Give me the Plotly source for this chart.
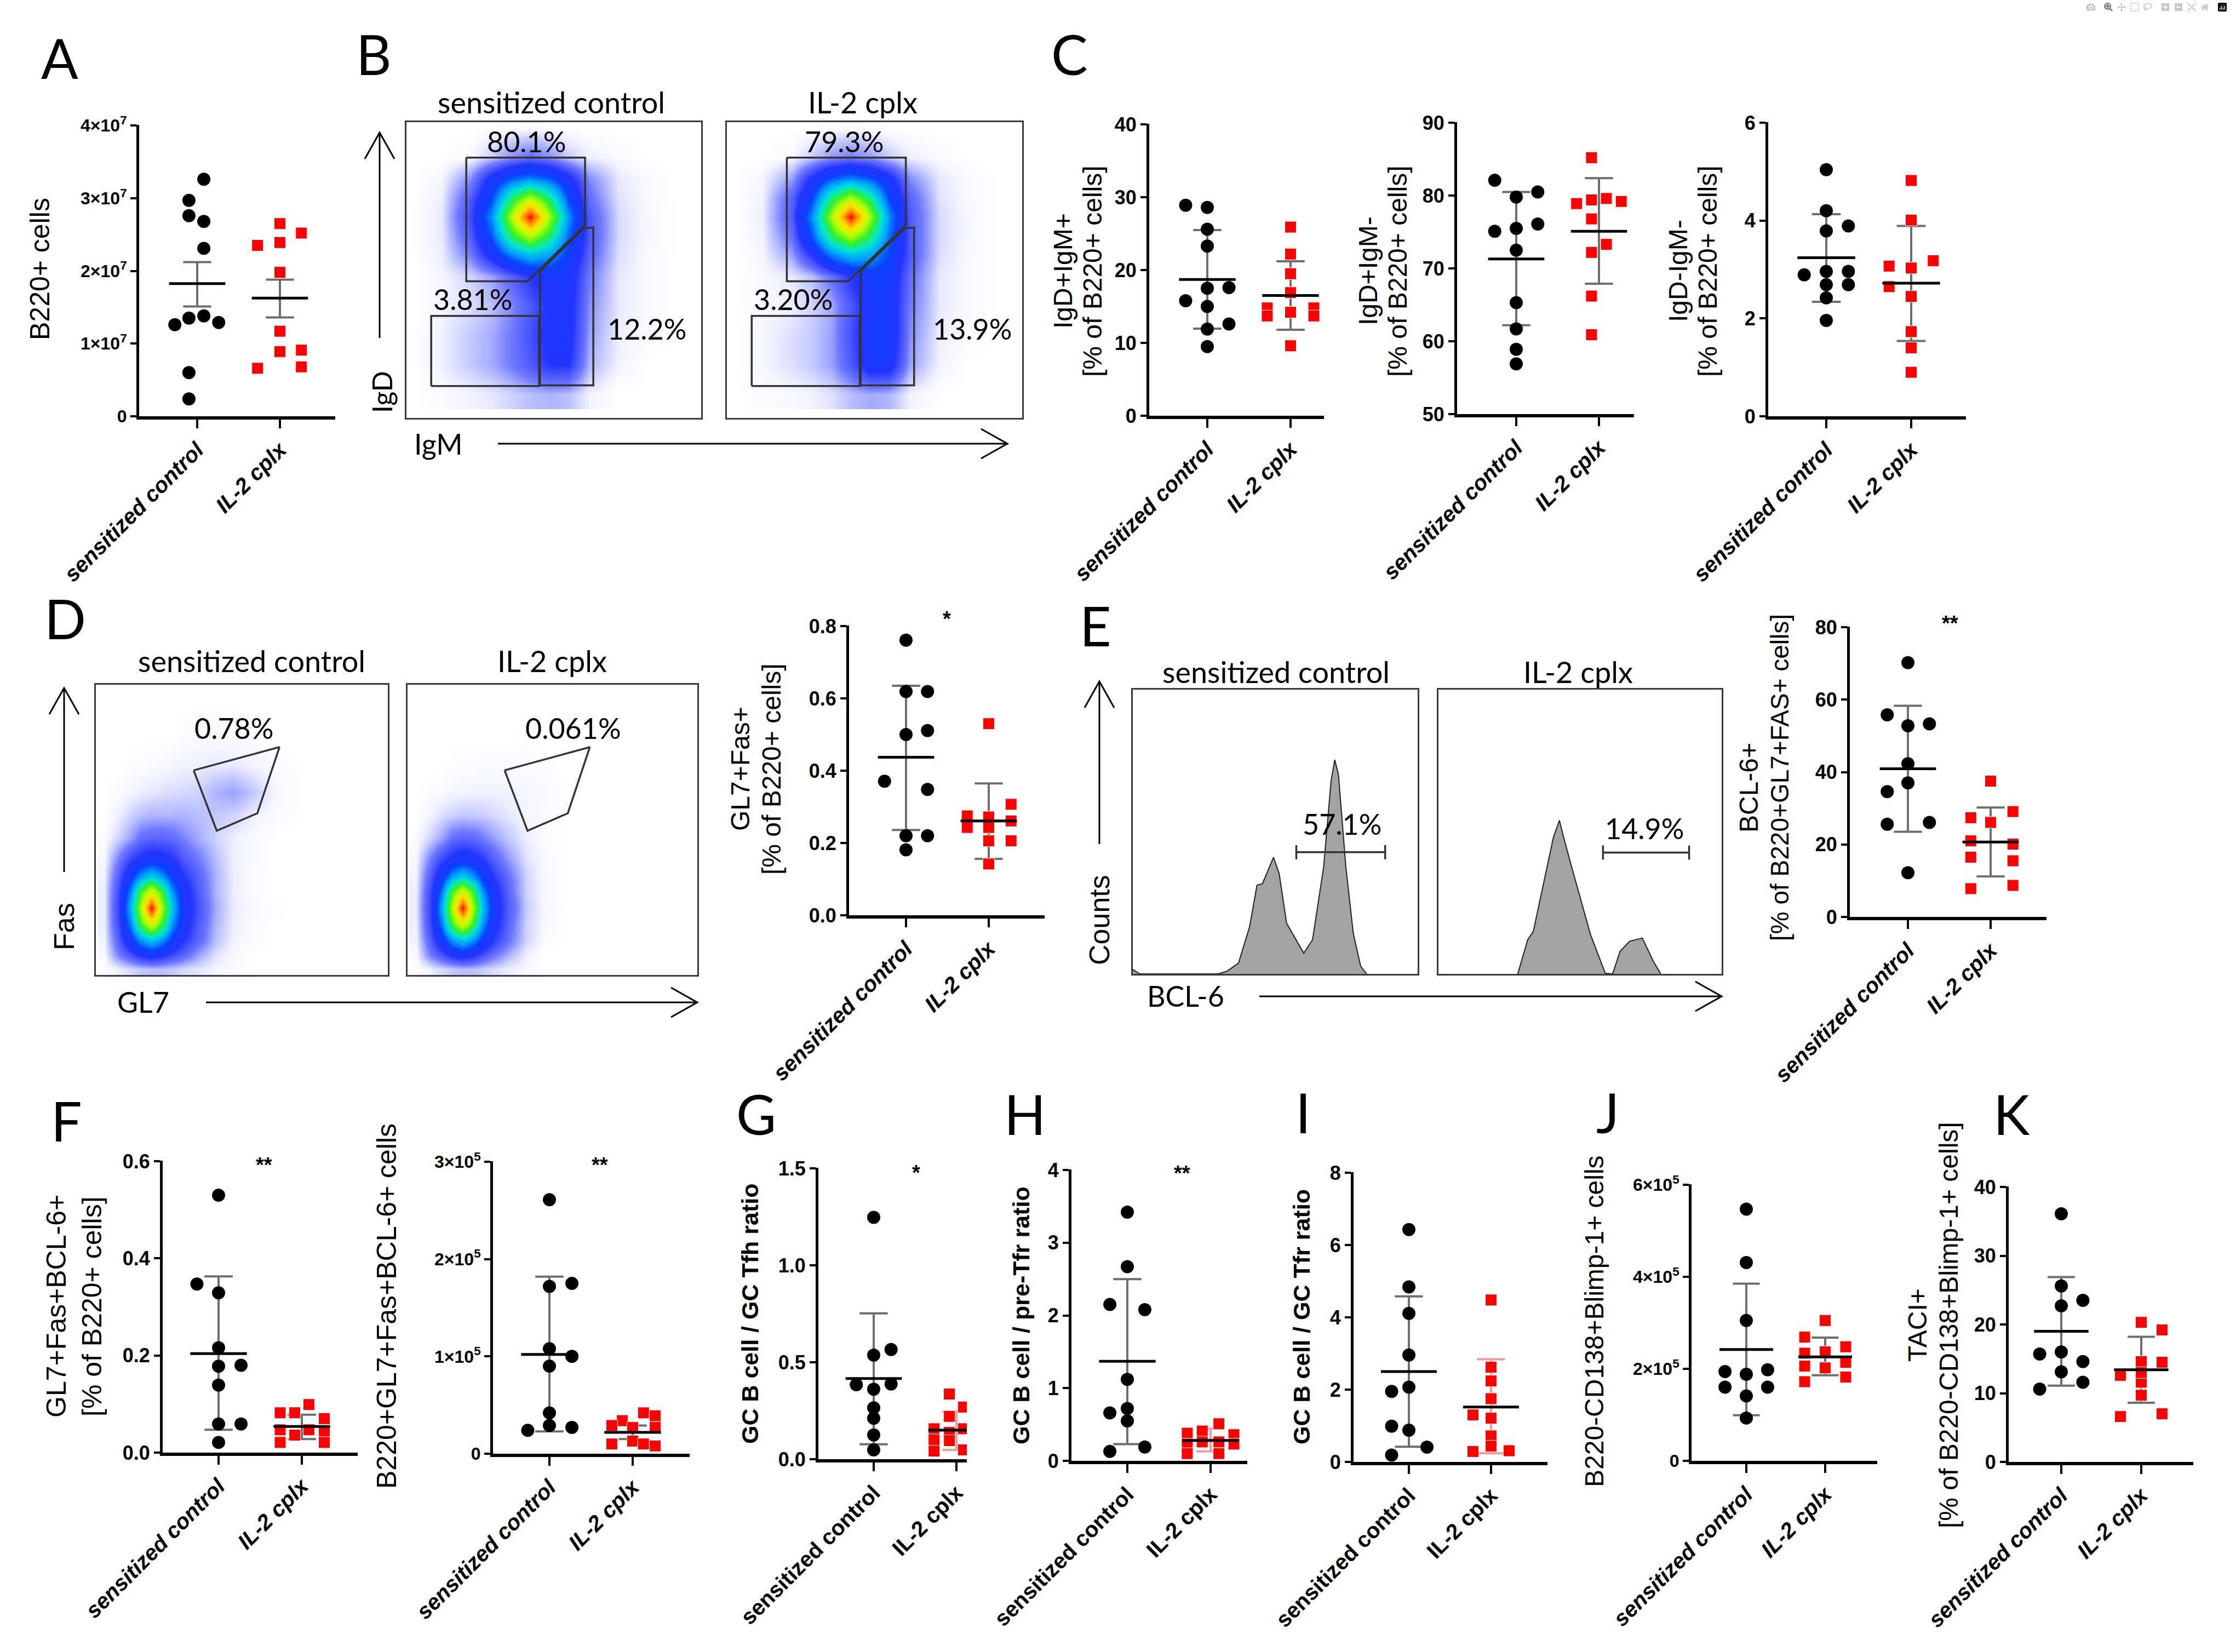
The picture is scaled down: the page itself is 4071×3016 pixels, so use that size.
import plotly.graph_objects as go

W, H = 4071, 3016
GROUPS = ["sensitized control", "IL-2 cplx"]
SANS = "Liberation Sans, Arial, sans-serif"
CAL = "Lato, Liberation Sans, sans-serif"

# ---------------- dot plot data ----------------
# A  B220+ cells
a_ctrl = [3.26e7, 2.97e7, 2.76e7, 2.68e7, 2.31e7, 1.26e7, 1.35e7, 1.38e7, 1.29e7, 0.60e7, 0.24e7]
a_il2 = [2.65e7, 2.52e7, 2.35e7, 2.39e7, 1.98e7, 1.17e7, 0.89e7, 0.91e7, 0.66e7, 0.68e7]
a_mean, a_lo, a_hi = [1.826e7, 1.625e7], [1.51e7, 1.36e7], [2.12e7, 1.88e7]
a_ticks = [0, 1e7, 2e7, 3e7, 4e7]
a_ticktext = ["0", "1×10<sup>7</sup>", "2×10<sup>7</sup>", "3×10<sup>7</sup>", "4×10<sup>7</sup>"]

# C  IgD/IgM subsets
c1_ctrl = [28.9, 28.6, 25.6, 23.3, 15.8, 17.6, 17.5, 15.0, 11.9, 12.6, 9.5]
c1_il2 = [25.9, 22.2, 19.5, 16.9, 14.8, 14.2, 14.8, 13.7, 13.7, 9.6]
c1_mean, c1_lo, c1_hi = [18.7, 16.5], [11.95, 11.8], [25.5, 21.2]
c1_ticks = [0, 10, 20, 30, 40]

c2_ctrl = [82.1, 79.8, 80.5, 75.1, 75.5, 76.1, 72.5, 65.3, 61.7, 58.9, 56.9]
c2_il2 = [85.2, 78.9, 79.4, 79.6, 79.2, 76.8, 73.3, 72.2, 66.2, 60.9]
c2_mean, c2_lo, c2_hi = [71.3, 75.1], [62.2, 67.9], [80.5, 82.4]
c2_ticks = [50, 60, 70, 80, 90]

c3_ctrl = [5.04, 4.20, 3.79, 3.89, 2.89, 2.96, 2.96, 2.69, 2.69, 2.42, 1.96]
c3_il2 = [4.82, 4.01, 3.18, 3.07, 3.03, 2.65, 2.45, 1.73, 1.40, 0.90]
c3_mean, c3_lo, c3_hi = [3.24, 2.72], [2.34, 1.54], [4.13, 3.89]
c3_ticks = [0, 2, 4, 6]

# D  GL7+Fas+
d_ctrl = [0.761, 0.619, 0.619, 0.500, 0.511, 0.371, 0.348, 0.220, 0.220, 0.181]
d_il2 = [0.530, 0.307, 0.275, 0.272, 0.261, 0.243, 0.243, 0.206, 0.206, 0.142]
d_mean, d_lo, d_hi = [0.437, 0.261], [0.236, 0.156], [0.635, 0.365]
d_ticks = [0, 0.2, 0.4, 0.6, 0.8]
d_ticktext = ["0.0", "0.2", "0.4", "0.6", "0.8"]

# E  BCL-6+
e_ctrl = [70.2, 55.8, 52.8, 53.3, 42.3, 37.0, 34.6, 25.6, 26.1, 12.2]
e_il2 = [37.5, 29.1, 27.4, 26.1, 21.0, 20.1, 16.5, 15.5, 7.8, 8.7]
e_mean, e_lo, e_hi = [40.9, 20.7], [23.5, 11.2], [58.3, 30.2]
e_ticks = [0, 20, 40, 60, 80]

# F
f1_ctrl = [0.530, 0.347, 0.329, 0.216, 0.178, 0.180, 0.139, 0.059, 0.059, 0.021]
f1_il2 = [0.099, 0.082, 0.082, 0.070, 0.047, 0.047, 0.036, 0.044, 0.021, 0.021]
f1_mean, f1_lo, f1_hi = [0.204, 0.054], [0.047, 0.028], [0.363, 0.078]
f1_ticks = [0, 0.2, 0.4, 0.6]
f1_ticktext = ["0.0", "0.2", "0.4", "0.6"]

f2_ctrl = [2.61e5, 1.72e5, 1.75e5, 1.08e5, 1.00e5, 0.90e5, 0.42e5, 0.24e5, 0.29e5, 0.27e5]
f2_il2 = [0.42e5, 0.39e5, 0.34e5, 0.29e5, 0.27e5, 0.27e5, 0.10e5, 0.13e5, 0.10e5, 0.08e5]
f2_mean, f2_lo, f2_hi = [1.02e5, 0.22e5], [0.23e5, 0.15e5], [1.82e5, 0.29e5]
f2_ticks = [0, 1e5, 2e5, 3e5]
f2_ticktext = ["0", "1×10<sup>5</sup>", "2×10<sup>5</sup>", "3×10<sup>5</sup>"]

# G, H, I  ratios
g_ctrl = [1.247, 0.566, 0.537, 0.384, 0.388, 0.361, 0.265, 0.211, 0.125, 0.048]
g_il2 = [0.336, 0.269, 0.221, 0.157, 0.157, 0.138, 0.100, 0.096, 0.042, 0.048]
g_mean, g_lo, g_hi = [0.416, 0.150], [0.077, 0.048], [0.752, 0.246]
g_ticks = [0, 0.5, 1.0, 1.5]
g_ticktext = ["0.0", "0.5", "1.0", "1.5"]

h_ctrl = [3.42, 2.67, 2.15, 2.08, 1.12, 0.66, 0.72, 0.55, 0.13, 0.19]
h_il2 = [0.51, 0.41, 0.38, 0.36, 0.26, 0.26, 0.23, 0.23, 0.10, 0.10]
h_mean, h_lo, h_hi = [1.37, 0.28], [0.23, 0.13], [2.50, 0.44]
h_ticks = [0, 1, 2, 3, 4]

i_ctrl = [6.43, 4.84, 4.11, 2.96, 1.95, 2.07, 0.99, 0.88, 0.41, 0.19]
i_il2 = [4.48, 2.62, 2.24, 1.75, 1.30, 1.21, 0.72, 0.44, 0.29, 0.31]
i_mean, i_lo, i_hi = [2.50, 1.52], [0.42, 0.24], [4.58, 2.84]
i_ticks = [0, 2, 4, 6, 8]

# J, K  plasma cells
j_ctrl = [5.47e5, 4.31e5, 3.05e5, 1.94e5, 1.88e5, 1.98e5, 1.60e5, 1.60e5, 1.41e5, 0.93e5]
j_il2 = [3.05e5, 2.69e5, 2.48e5, 2.34e5, 2.37e5, 2.14e5, 2.06e5, 2.02e5, 1.82e5, 1.72e5]
j_mean, j_lo, j_hi = [2.42e5, 2.26e5], [0.99e5, 1.86e5], [3.85e5, 2.68e5]
j_ticks = [0, 2e5, 4e5, 6e5]
j_ticktext = ["0", "2×10<sup>5</sup>", "4×10<sup>5</sup>", "6×10<sup>5</sup>"]

k_ctrl = [36.1, 25.6, 22.7, 23.5, 15.7, 16.0, 14.6, 13.1, 11.6, 10.6]
k_il2 = [20.3, 19.2, 14.6, 14.5, 12.6, 11.6, 9.7, 7.0, 6.6, 13.0]
k_mean, k_lo, k_hi = [19.0, 13.4], [11.1, 8.6], [26.9, 18.2]
k_ticks = [0, 10, 20, 30, 40]

# horizontal scatter of the points (category units)
a_ctrl_dx = [0.08, -0.1, -0.1, 0.08, 0.08, -0.27, -0.1, 0.08, 0.26, -0.1, -0.1]
a_il2_dx = [0, 0.26, -0.27, 0, 0, 0, 0, 0.26, -0.27, 0.26]
c1_ctrl_dx = [-0.26, 0, 0, 0, -0.26, 0.26, 0, 0, 0, 0.26, 0]
c1_il2_dx = [0, 0, 0, 0, -0.28, 0, 0.28, -0.28, 0.28, 0]
c2_ctrl_dx = [-0.26, 0, 0.26, -0.26, 0, 0.26, 0, 0, 0, 0, 0]
c2_il2_dx = [-0.09, -0.27, -0.09, 0.09, 0.27, -0.09, 0.09, -0.09, -0.09, -0.09]
c3_ctrl_dx = [0, 0, 0, 0.26, -0.26, 0, 0.26, 0, 0.26, 0, 0]
c3_il2_dx = [0, 0, 0.26, -0.26, 0, -0.26, 0, 0, 0, 0]
d_ctrl_dx = [0, 0, 0.26, 0, 0.26, -0.26, 0.26, 0, 0.26, 0]
d_il2_dx = [0, 0.27, -0.26, 0, 0.27, -0.26, 0, 0.27, 0, 0]
e_ctrl_dx = [0, -0.25, 0, 0.26, 0, 0, -0.25, -0.25, 0.26, 0]
e_il2_dx = [0, 0.27, -0.24, 0, -0.24, 0.27, -0.24, 0.27, -0.24, 0.27]
f1_ctrl_dx = [0, -0.26, 0, 0, 0, 0.27, 0, 0, 0.27, 0]
f1_il2_dx = [0.085, -0.26, -0.085, 0.27, -0.26, 0.085, -0.085, 0.27, -0.26, 0.27]
f2_ctrl_dx = [0, 0, 0.27, 0, 0.27, 0, 0, -0.26, 0, 0.27]
f2_il2_dx = [0.13, 0.27, -0.125, -0.25, 0, 0.27, -0.25, 0, 0.13, 0.27]
g_ctrl_dx = [0, 0.21, 0, -0.21, 0.21, 0, 0, 0, 0, 0]
g_il2_dx = [-0.085, 0.085, -0.085, -0.27, 0.085, -0.085, -0.27, -0.085, -0.27, 0.085]
h_ctrl_dx = [0, 0, -0.21, 0.21, 0, -0.21, 0, 0, -0.21, 0.21]
h_il2_dx = [0.1, -0.1, -0.28, 0.28, -0.1, 0.1, -0.28, 0.28, -0.28, 0.1]
i_ctrl_dx = [0, 0, 0, 0, -0.21, 0, -0.21, 0, 0.22, -0.21]
i_il2_dx = [0, 0, 0, 0, -0.22, 0, 0, 0, -0.22, 0.22]
j_ctrl_dx = [0, 0, 0, -0.27, 0, 0.27, -0.27, 0.27, 0, 0]
j_il2_dx = [0, -0.26, 0.26, -0.26, 0, 0.26, -0.26, 0, 0.26, -0.26]
k_ctrl_dx = [0, 0, 0, 0.27, -0.27, 0, 0.27, 0, 0.27, -0.27]
k_il2_dx = [0, 0.26, 0, 0.26, -0.26, 0, 0, 0.26, -0.26, 0]

# ---------------- flow data (density) ----------------
# B: IgM (x) vs IgD (y); rows listed from top to bottom
b_xs = [2, 12, 22, 29, 35.5, 42, 48.5, 55, 62, 72, 82, 92]
b_ys = [98, 88, 81, 74.5, 68, 61.5, 55, 48, 38, 28, 18, 8]
b1_density = [
    [0, 0, 0, 0, 0.003, 0.004, 0.003, 0, 0, 0, 0, 0],
    [0, 0, 0.006, 0.03, 0.06, 0.08, 0.06, 0.03, 0.012, 0.005, 0, 0],
    [0, 0.008, 0.06, 0.16, 0.24, 0.28, 0.24, 0.16, 0.06, 0.015, 0.005, 0],
    [0, 0.012, 0.1, 0.22, 0.45, 0.6, 0.45, 0.22, 0.08, 0.018, 0.005, 0],
    [0, 0.015, 0.12, 0.29, 0.6, 1.0, 0.6, 0.29, 0.1, 0.022, 0.006, 0],
    [0, 0.015, 0.1, 0.24, 0.47, 0.62, 0.47, 0.25, 0.1, 0.022, 0.006, 0],
    [0, 0.012, 0.07, 0.16, 0.27, 0.34, 0.3, 0.2, 0.09, 0.02, 0.005, 0],
    [0, 0.008, 0.025, 0.05, 0.09, 0.14, 0.17, 0.17, 0.07, 0.015, 0.005, 0],
    [0, 0.008, 0.02, 0.035, 0.06, 0.1, 0.15, 0.16, 0.06, 0.015, 0.005, 0],
    [0, 0.012, 0.03, 0.045, 0.07, 0.11, 0.16, 0.16, 0.05, 0.012, 0.004, 0],
    [0, 0.012, 0.03, 0.045, 0.07, 0.1, 0.14, 0.14, 0.04, 0.01, 0, 0],
    [0, 0.004, 0.01, 0.015, 0.025, 0.035, 0.04, 0.035, 0.01, 0, 0, 0],
]
b2_density = [
    [0, 0, 0, 0, 0.003, 0.004, 0.003, 0, 0, 0, 0, 0],
    [0, 0, 0.006, 0.03, 0.055, 0.07, 0.055, 0.03, 0.012, 0.005, 0, 0],
    [0, 0.008, 0.05, 0.15, 0.24, 0.28, 0.24, 0.16, 0.06, 0.015, 0.005, 0],
    [0, 0.01, 0.09, 0.22, 0.45, 0.6, 0.45, 0.22, 0.09, 0.018, 0.005, 0],
    [0, 0.012, 0.1, 0.29, 0.6, 1.0, 0.6, 0.29, 0.1, 0.022, 0.006, 0],
    [0, 0.01, 0.08, 0.24, 0.47, 0.62, 0.47, 0.26, 0.1, 0.022, 0.006, 0],
    [0, 0.008, 0.05, 0.14, 0.27, 0.34, 0.31, 0.22, 0.1, 0.02, 0.005, 0],
    [0, 0.005, 0.015, 0.035, 0.08, 0.14, 0.19, 0.19, 0.08, 0.015, 0.005, 0],
    [0, 0.005, 0.012, 0.025, 0.045, 0.1, 0.17, 0.18, 0.07, 0.015, 0.005, 0],
    [0, 0.008, 0.02, 0.03, 0.05, 0.11, 0.18, 0.19, 0.06, 0.012, 0.004, 0],
    [0, 0.008, 0.02, 0.03, 0.05, 0.1, 0.17, 0.17, 0.05, 0.01, 0, 0],
    [0, 0.003, 0.006, 0.01, 0.018, 0.035, 0.045, 0.04, 0.01, 0, 0, 0],
]
b_gate_hi_x = [20.3, 60.6, 60.6, 41.1, 20.3, 20.3]
b_gate_hi_y = [88.0, 88.0, 65.2, 46.2, 46.2, 88.0]
b_gate_mid_x = [45.3, 45.3, 60.2, 63.4, 63.4, 45.3]
b_gate_mid_y = [11.0, 49.6, 64.1, 64.4, 11.0, 11.0]
b_gate_lo_x = [8.4, 45.0, 45.0, 8.4, 8.4]
b_gate_lo_y = [10.8, 10.8, 34.5, 34.5, 10.8]

# D: GL7 (x) vs Fas (y); rows listed from top to bottom
d_xs = [3, 8, 12, 15.5, 19, 22.5, 26, 30, 35, 41, 47, 54, 62, 72, 85]
d_ys = [95, 82, 72, 63, 55, 47, 40, 34, 28.5, 23, 17.5, 12, 7, 2]
d1_density = [
    [0, 0, 0, 0, 0, 0, 0, 0, 0, 0, 0, 0, 0, 0, 0],
    [0, 0, 0, 0, 0, 0, 0, 0.003, 0.004, 0.005, 0.004, 0.002, 0, 0, 0],
    [0, 0, 0.002, 0.003, 0.005, 0.006, 0.008, 0.01, 0.012, 0.015, 0.015, 0.01, 0.004, 0, 0],
    [0, 0.004, 0.008, 0.012, 0.015, 0.018, 0.02, 0.022, 0.025, 0.04, 0.05, 0.03, 0.006, 0, 0],
    [0, 0.012, 0.025, 0.035, 0.04, 0.04, 0.04, 0.04, 0.035, 0.03, 0.025, 0.012, 0.004, 0, 0],
    [0.003, 0.026, 0.05, 0.08, 0.09, 0.09, 0.085, 0.065, 0.045, 0.025, 0.012, 0.005, 0, 0, 0],
    [0.006, 0.07, 0.12, 0.15, 0.17, 0.16, 0.14, 0.1, 0.07, 0.035, 0.012, 0.005, 0, 0, 0],
    [0.01, 0.1, 0.19, 0.3, 0.36, 0.3, 0.21, 0.14, 0.09, 0.04, 0.012, 0.004, 0, 0, 0],
    [0.012, 0.12, 0.28, 0.52, 0.68, 0.52, 0.3, 0.17, 0.1, 0.04, 0.012, 0.004, 0, 0, 0],
    [0.012, 0.13, 0.33, 0.62, 1.0, 0.62, 0.36, 0.18, 0.11, 0.045, 0.014, 0.005, 0.002, 0, 0],
    [0.012, 0.12, 0.28, 0.52, 0.68, 0.52, 0.3, 0.17, 0.1, 0.04, 0.012, 0.004, 0, 0, 0],
    [0.01, 0.1, 0.19, 0.3, 0.36, 0.3, 0.21, 0.14, 0.09, 0.035, 0.01, 0.004, 0, 0, 0],
    [0.005, 0.07, 0.11, 0.15, 0.17, 0.15, 0.12, 0.09, 0.05, 0.018, 0.006, 0, 0, 0, 0],
    [0, 0.012, 0.022, 0.03, 0.035, 0.035, 0.03, 0.022, 0.016, 0.008, 0.004, 0, 0, 0, 0],
]
d2_density = [
    [0, 0, 0, 0, 0, 0, 0, 0, 0, 0, 0, 0, 0, 0, 0],
    [0, 0, 0, 0, 0, 0, 0, 0, 0, 0.002, 0, 0, 0, 0, 0],
    [0, 0, 0, 0.002, 0.003, 0.003, 0.004, 0.004, 0.004, 0.003, 0.002, 0, 0, 0, 0],
    [0, 0.003, 0.005, 0.007, 0.009, 0.01, 0.01, 0.01, 0.01, 0.008, 0.005, 0.002, 0, 0, 0],
    [0, 0.01, 0.02, 0.026, 0.03, 0.03, 0.028, 0.022, 0.015, 0.008, 0.004, 0, 0, 0, 0],
    [0.003, 0.026, 0.05, 0.08, 0.09, 0.085, 0.07, 0.05, 0.03, 0.012, 0.004, 0, 0, 0, 0],
    [0.006, 0.07, 0.12, 0.15, 0.17, 0.16, 0.13, 0.09, 0.05, 0.018, 0.005, 0, 0, 0, 0],
    [0.01, 0.1, 0.19, 0.3, 0.36, 0.3, 0.2, 0.13, 0.075, 0.025, 0.006, 0, 0, 0, 0],
    [0.012, 0.12, 0.28, 0.52, 0.68, 0.52, 0.29, 0.16, 0.085, 0.025, 0.006, 0, 0, 0, 0],
    [0.012, 0.13, 0.33, 0.62, 1.0, 0.62, 0.34, 0.17, 0.095, 0.03, 0.008, 0, 0, 0, 0],
    [0.012, 0.12, 0.28, 0.52, 0.68, 0.52, 0.29, 0.16, 0.085, 0.025, 0.006, 0, 0, 0, 0],
    [0.01, 0.1, 0.19, 0.3, 0.36, 0.3, 0.2, 0.13, 0.075, 0.025, 0.005, 0, 0, 0, 0],
    [0.005, 0.07, 0.11, 0.15, 0.17, 0.15, 0.11, 0.075, 0.04, 0.012, 0, 0, 0, 0, 0],
    [0, 0.012, 0.022, 0.03, 0.035, 0.035, 0.028, 0.02, 0.012, 0.005, 0, 0, 0, 0, 0],
]
d_gate_x = [33.5, 62.9, 55.3, 41.4, 33.5]
d_gate_y = [70.5, 78.5, 55.7, 49.7, 70.5]

# E: BCL-6 histograms (% of box)
e1_hist_x = [0, 0.8, 2.5, 30.0, 33.0, 37.1, 41.0, 43.6, 45.5, 49.4, 51.4, 54.0, 60.0, 63.1,
             67.0, 69.6, 70.9, 72.2, 74.8, 77.4, 80.0, 82.1]
e1_hist_y = [1.5, 1.0, 0, 0, 0.9, 3.8, 16.6, 31.2, 31.7, 41.0, 35.2, 17.8, 7.3, 12.0,
             37.6, 67.8, 75.3, 70.1, 37.6, 14.3, 2.7, 0]
e2_hist_x = [28.0, 31.5, 33.5, 36.6, 40.6, 42.7, 44.5, 47.1, 49.7, 53.7, 58.9, 61.5,
             64.1, 67.5, 72.0, 75.9, 78.5]
e2_hist_y = [0, 12.0, 15.0, 29.2, 48.1, 54.0, 46.9, 37.4, 28.0, 13.8, 0.2, 0,
             7.9, 11.5, 12.6, 4.4, 0]
e1_gate_x, e1_gate_y = [57.4, 88.6], 42.8
e2_gate_x, e2_gate_y = [58.1, 88.5], 42.7

FLOW_CS = [
    [0.0, "#ffffff"], [0.01, "#f2f3ff"], [0.03, "#c4c9ff"], [0.07, "#6e78ff"],
    [0.14, "#2434ff"], [0.22, "#0a40ff"], [0.3, "#00a0ff"], [0.4, "#00e6d0"],
    [0.5, "#30f030"], [0.62, "#b8ff00"], [0.75, "#ffe000"], [0.88, "#ff8000"], [1.0, "#ff0000"],
]

# ---------------- helpers ----------------
fig = go.Figure()
layout = {}
annotations = []
shapes = []


def fx(px):
    return px / W


def fy(py):
    return 1 - py / H


def refs(i):
    s = "" if i == 1 else str(i)
    return "x" + s, "y" + s, "xaxis" + s, "yaxis" + s


def dot_panel(i, geo, ctrl, ctrl_dx, il2, il2_dx, mean, lo, hi, yr, tv, tt=None,
              err_il2="#6e6e6e", italic=True, tick_size=36):
    x0, x1, c1, c2, yt, yb = geo
    d = c2 - c1
    xr, yr_, xk, yk = refs(i)
    layout[xk] = dict(
        domain=[fx(x0), fx(x1)], range=[1 - (c1 - x0) / d, 2 + (x1 - c2) / d], anchor=yr_,
        tickmode="array", tickvals=[1, 2], ticktext=GROUPS, tickangle=-45, automargin=False,
        ticks="outside", ticklen=16, tickwidth=4, tickcolor="black",
        showline=True, linewidth=6, linecolor="black", showgrid=False, zeroline=False,
        tickfont=dict(family=SANS, size=40, color="black", weight="bold",
                      style="italic" if italic else "normal"))
    layout[yk] = dict(
        domain=[fy(yb), fy(yt)], range=[yr[0], yr[1] + (yr[1] - yr[0]) * 0.002], anchor=xr,
        tickmode="array", tickvals=tv, ticktext=tt if tt else [str(v) for v in tv],
        ticks="outside", ticklen=11, tickwidth=4, tickcolor="black", automargin=False,
        showline=True, linewidth=5, linecolor="black", showgrid=False, zeroline=False,
        tickfont=dict(family=SANS, size=tick_size, color="black", weight="bold"))
    ecol = ["#6e6e6e", err_il2]
    for g in range(2):
        c = g + 1
        fig.add_trace(go.Scatter(
            x=[c, c, None, c - 0.17, c + 0.17, None, c - 0.17, c + 0.17],
            y=[lo[g], hi[g], None, lo[g], lo[g], None, hi[g], hi[g]],
            mode="lines", line=dict(color=ecol[g], width=4), xaxis=xr, yaxis=yr_))
    fig.add_trace(go.Scatter(
        x=[1 + v for v in ctrl_dx], y=ctrl, mode="markers",
        marker=dict(symbol="circle", size=24, color="black"), xaxis=xr, yaxis=yr_))
    fig.add_trace(go.Scatter(
        x=[2 + v for v in il2_dx], y=il2, mode="markers",
        marker=dict(symbol="square", size=21, color="#ff0000", line=dict(color="#ffffff", width=1)),
        xaxis=xr, yaxis=yr_))
    fig.add_trace(go.Scatter(
        x=[0.66, 1.34, None, 1.66, 2.34], y=[mean[0], mean[0], None, mean[1], mean[1]],
        mode="lines", line=dict(color="black", width=5), xaxis=xr, yaxis=yr_))


def flow_axes(i, box):
    x0, x1, yt, yb = box
    xr, yr_, xk, yk = refs(i)
    common = dict(range=[0, 100], showline=True, mirror=True, linewidth=3, linecolor="#3a3a3a",
                  showticklabels=False, ticks="", showgrid=False, zeroline=False, automargin=False)
    layout[xk] = dict(domain=[fx(x0), fx(x1)], anchor=yr_, **common)
    layout[yk] = dict(domain=[fy(yb), fy(yt)], anchor=xr, **common)
    return xr, yr_


def density(i, box, xs, ys, z, gates):
    xr, yr_ = flow_axes(i, box)
    fig.add_trace(go.Heatmap(x=xs, y=ys[::-1], z=z[::-1], colorscale=FLOW_CS, zmin=0, zmax=1,
                             zsmooth="best", showscale=False, xaxis=xr, yaxis=yr_))
    for gx, gy in gates:
        fig.add_trace(go.Scatter(x=gx, y=gy, mode="lines", line=dict(color="#333333", width=3.5),
                                 xaxis=xr, yaxis=yr_))


def histogram(i, box, hx, hy, gx, gy):
    xr, yr_ = flow_axes(i, box)
    fig.add_trace(go.Scatter(x=hx, y=hy, mode="lines", fill="tozeroy", fillcolor="#a3a3a3",
                             line=dict(color="#222222", width=2), xaxis=xr, yaxis=yr_))
    fig.add_trace(go.Scatter(
        x=[gx[0], gx[1], None, gx[0], gx[0], None, gx[1], gx[1]],
        y=[gy, gy, None, gy - 2.5, gy + 2.5, None, gy - 2.5, gy + 2.5],
        mode="lines", line=dict(color="#333333", width=3.5), xaxis=xr, yaxis=yr_))


def label(x, y, text, size, family=SANS, angle=0, weight="normal"):
    annotations.append(dict(
        x=fx(x), y=fy(y), xref="paper", yref="paper", text=text, showarrow=False,
        textangle=angle, xanchor="center", yanchor="middle",
        font=dict(family=family, size=size, color="black", weight=weight)))


def arrow(xa, ya, xb, yb):
    shapes.append(dict(type="line", xref="paper", yref="paper", x0=fx(xa), y0=fy(ya),
                       x1=fx(xb), y1=fy(yb), line=dict(color="black", width=3)))
    if xa == xb:
        pts = [(xb - 27, yb + 48), (xb, yb), (xb + 27, yb + 48)]
    else:
        pts = [(xb - 48, yb - 27), (xb, yb), (xb - 48, yb + 27)]
    path = "M " + " L ".join(f"{fx(px)},{fy(py)}" for px, py in pts)
    shapes.append(dict(type="path", xref="paper", yref="paper", path=path,
                       line=dict(color="black", width=3)))


# ---------------- panels ----------------
dot_panel(1, (254, 612, 360, 511, 228, 760), a_ctrl, a_ctrl_dx, a_il2, a_il2_dx,
          a_mean, a_lo, a_hi, [0, 4e7], a_ticks, a_ticktext, tick_size=32)

b_gates = [(b_gate_hi_x, b_gate_hi_y), (b_gate_mid_x, b_gate_mid_y), (b_gate_lo_x, b_gate_lo_y)]
density(2, (742, 1280, 223, 763), b_xs, b_ys, b1_density, b_gates)
density(3, (1327, 1866, 223, 763), b_xs, b_ys, b2_density, b_gates)

dot_panel(4, (2098, 2417, 2204, 2356, 226, 759), c1_ctrl, c1_ctrl_dx, c1_il2, c1_il2_dx,
          c1_mean, c1_lo, c1_hi, [0, 40], c1_ticks)
dot_panel(5, (2660, 2983, 2768, 2919, 223, 756), c2_ctrl, c2_ctrl_dx, c2_il2, c2_il2_dx,
          c2_mean, c2_lo, c2_hi, [50, 90], c2_ticks)
dot_panel(6, (3228, 3589, 3334, 3489, 223, 760), c3_ctrl, c3_ctrl_dx, c3_il2, c3_il2_dx,
          c3_mean, c3_lo, c3_hi, [0, 6], c3_ticks)

density(7, (175, 708, 1250, 1780), d_xs, d_ys, d1_density, [(d_gate_x, d_gate_y)])
density(8, (744, 1273, 1250, 1780), d_xs, d_ys, d2_density, [(d_gate_x, d_gate_y)])
dot_panel(9, (1550, 1907, 1654, 1805, 1142, 1671), d_ctrl, d_ctrl_dx, d_il2, d_il2_dx,
          d_mean, d_lo, d_hi, [0, 0.8], d_ticks, d_ticktext)

histogram(10, (2068, 2588, 1259, 1778), e1_hist_x, e1_hist_y, e1_gate_x, e1_gate_y)
histogram(11, (2626, 3143, 1259, 1778), e2_hist_x, e2_hist_y, e2_gate_x, e2_gate_y)
dot_panel(12, (3377, 3736, 3483, 3634, 1144, 1674), e_ctrl, e_ctrl_dx, e_il2, e_il2_dx,
          e_mean, e_lo, e_hi, [0, 80], e_ticks)

dot_panel(13, (297, 653, 399, 551, 2119, 2652), f1_ctrl, f1_ctrl_dx, f1_il2, f1_il2_dx,
          f1_mean, f1_lo, f1_hi, [0, 0.6], f1_ticks, f1_ticktext)
dot_panel(14, (900, 1259, 1003, 1155, 2120, 2654), f2_ctrl, f2_ctrl_dx, f2_il2, f2_il2_dx,
          f2_mean, f2_lo, f2_hi, [0, 3e5], f2_ticks, f2_ticktext, tick_size=32)
dot_panel(15, (1494, 1765, 1595, 1746, 2132, 2664), g_ctrl, g_ctrl_dx, g_il2, g_il2_dx,
          g_mean, g_lo, g_hi, [0, 1.5], g_ticks, g_ticktext, err_il2="#f49a9a", italic=False)
dot_panel(16, (1956, 2277, 2058, 2210, 2135, 2667), h_ctrl, h_ctrl_dx, h_il2, h_il2_dx,
          h_mean, h_lo, h_hi, [0, 4], h_ticks, err_il2="#f49a9a", italic=False)
dot_panel(17, (2471, 2825, 2572, 2722, 2140, 2669), i_ctrl, i_ctrl_dx, i_il2, i_il2_dx,
          i_mean, i_lo, i_hi, [0, 8], i_ticks, err_il2="#f49a9a", italic=False)
dot_panel(18, (3088, 3427, 3188, 3332, 2162, 2667), j_ctrl, j_ctrl_dx, j_il2, j_il2_dx,
          j_mean, j_lo, j_hi, [0, 6e5], j_ticks, j_ticktext, tick_size=32)
dot_panel(19, (3667, 4004, 3763, 3909, 2166, 2669), k_ctrl, k_ctrl_dx, k_il2, k_il2_dx,
          k_mean, k_lo, k_hi, [0, 40], k_ticks)

# ---------------- text ----------------
for letter, x, y in [("A", 109, 105), ("B", 682, 98), ("C", 1952, 98), ("D", 119, 1128),
                     ("E", 2000, 1141), ("F", 121, 2045), ("G", 1380, 2033), ("H", 1871, 2033),
                     ("I", 2379, 2030), ("J", 2935, 2030), ("K", 3672, 2033)]:
    label(x, y, letter, 100, family=CAL)

for text, x, y in [(GROUPS[0], 1006, 186), (GROUPS[1], 1575, 186), (GROUPS[0], 459, 1206),
                   (GROUPS[1], 1008, 1206), (GROUPS[0], 2329, 1226), (GROUPS[1], 2881, 1226)]:
    label(x, y, text, 54, family=CAL)

for text, x, y in [("80.1%", 961, 258), ("3.81%", 863, 546), ("12.2%", 1181, 600),
                   ("79.3%", 1541, 258), ("3.20%", 1448, 546), ("13.9%", 1775, 600),
                   ("0.78%", 427, 1329), ("0.061%", 1046, 1329),
                   ("57.1%", 2450, 1504), ("14.9%", 3002, 1512)]:
    label(x, y, text, 52, family=CAL)

label(697, 716, "IgD", 50, family=CAL, angle=-90)
label(800, 810, "IgM", 52, family=CAL)
label(117, 1692, "Fas", 52, angle=-90)
label(261, 1829, "GL7", 52, family=CAL)
label(2007, 1680, "Counts", 52, angle=-90)
label(2164, 1818, "BCL-6", 52, family=CAL)

arrow(693, 617, 693, 242)
arrow(909, 810, 1839, 810)
arrow(117, 1592, 117, 1256)
arrow(376, 1830, 1273, 1830)
arrow(2007, 1541, 2007, 1244)
arrow(2299, 1819, 3143, 1819)

# y-axis titles of the dot plots
label(73, 491, "B220+ cells", 50, angle=-90)
label(1940, 495, "IgD+IgM+", 48, angle=-90)
label(1994, 495, "[% of B220+ cells]", 48, angle=-90)
label(2497, 495, "IgD+IgM-", 48, angle=-90)
label(2551, 495, "[% of B220+ cells]", 48, angle=-90)
label(3063, 495, "IgD-IgM-", 48, angle=-90)
label(3117, 495, "[% of B220+ cells]", 48, angle=-90)
label(1352, 1404, "GL7+Fas+", 48, angle=-90)
label(1409, 1404, "[% of B220+ cells]", 48, angle=-90)
label(3192, 1438, "BCL-6+", 48, angle=-90)
label(3249, 1420, "[% of B220+GL7+FAS+ cells]", 46, angle=-90)
label(103, 2385, "GL7+Fas+BCL-6+", 50, angle=-90)
label(168, 2385, "[% of B220+ cells]", 50, angle=-90)
label(706, 2385, "B220+GL7+Fas+BCL-6+ cells", 50, angle=-90)
label(1369, 2399, "GC B cell / GC Tfh ratio", 43, angle=-90, weight="bold")
label(1864, 2402, "GC B cell / pre-Tfr ratio", 43, angle=-90, weight="bold")
label(2376, 2404, "GC B cell / GC Tfr ratio", 43, angle=-90, weight="bold")
label(2910, 2412, "B220-CD138+Blimp-1+ cells", 48, angle=-90)
label(3500, 2419, "TACI+", 48, angle=-90)
label(3557, 2419, "[% of B220-CD138+Blimp-1+ cells]", 48, angle=-90)

# significance marks
for text, x, y in [("*", 1728, 1130), ("**", 3560, 1138), ("**", 482, 2127),
                   ("**", 1095, 2127), ("*", 1672, 2141), ("**", 2158, 2142)]:
    label(x, y, text, 38, weight="bold")

fig.update_traces(hoverinfo="skip")
fig.update_layout(
    width=W, height=H, margin=dict(l=0, r=0, t=0, b=0, pad=0, autoexpand=False),
    paper_bgcolor="white", plot_bgcolor="white", showlegend=False, hovermode=False,
    font=dict(family=SANS, color="black"),
    annotations=annotations, shapes=shapes, **layout)

fig.write_html("out.html", post_script="document.body.style.margin='0';document.body.style.overflow='hidden';")
